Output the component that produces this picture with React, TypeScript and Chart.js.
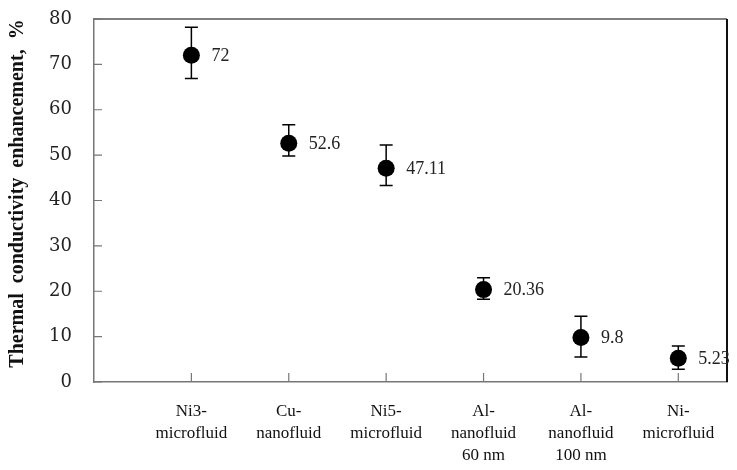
import React, { useEffect, useRef } from "react";
import { Chart, registerables } from "chart.js";

Chart.register(...registerables);

// Fluids compared, with the measured enhancement and its error range
const categories: string[][] = [
  ["Ni3-", "microfluid"],
  ["Cu-", "nanofluid"],
  ["Ni5-", "microfluid"],
  ["Al-", "nanofluid", "60 nm"],
  ["Al-", "nanofluid", "100 nm"],
  ["Ni-", "microfluid"],
];
const enhancement: number[] = [72, 52.6, 47.11, 20.36, 9.8, 5.23];
const errorPlus: number[] = [6.2, 4.1, 5.1, 2.6, 4.7, 2.7];
const errorMinus: number[] = [5.1, 2.8, 3.8, 2.1, 4.3, 2.4];
const yTicks: number[] = [0, 10, 20, 30, 40, 50, 60, 70, 80];
const yTitle = "Thermal conductivity enhancement, %";

const SERIF = "'Liberation Serif', 'Times New Roman', serif";

const decorations = {
  id: "decorations",
  beforeDatasetsDraw(chart: any) {
    const { ctx, chartArea, scales } = chart;
    const x = scales.x;
    const y = scales.y;
    ctx.save();
    // frame: top and right edges
    ctx.strokeStyle = "#555";
    ctx.lineWidth = 1.5;
    ctx.beginPath();
    ctx.moveTo(chartArea.left, chartArea.top);
    ctx.lineTo(chartArea.right, chartArea.top);
    ctx.stroke();
    ctx.strokeStyle = "#111";
    ctx.lineWidth = 2;
    ctx.beginPath();
    ctx.moveTo(chartArea.right, chartArea.top);
    ctx.lineTo(chartArea.right, chartArea.bottom);
    ctx.stroke();
    // inward tick marks
    ctx.strokeStyle = "#777";
    ctx.lineWidth = 1.2;
    ctx.beginPath();
    yTicks.forEach((v) => {
      const py = y.getPixelForValue(v);
      ctx.moveTo(chartArea.left, py);
      ctx.lineTo(chartArea.left + 8, py);
    });
    categories.forEach((_, i) => {
      const px = x.getPixelForValue(i);
      ctx.moveTo(px, chartArea.bottom);
      ctx.lineTo(px, chartArea.bottom - 9);
    });
    ctx.stroke();
    // error bars
    ctx.strokeStyle = "#000";
    ctx.lineWidth = 1.5;
    enhancement.forEach((v, i) => {
      const px = x.getPixelForValue(i);
      const top = y.getPixelForValue(v + errorPlus[i]);
      const bot = y.getPixelForValue(v - errorMinus[i]);
      ctx.beginPath();
      ctx.moveTo(px, top);
      ctx.lineTo(px, bot);
      ctx.moveTo(px - 6.5, top);
      ctx.lineTo(px + 6.5, top);
      ctx.moveTo(px - 6.5, bot);
      ctx.lineTo(px + 6.5, bot);
      ctx.stroke();
    });
    ctx.restore();
  },
  afterDatasetsDraw(chart: any) {
    const { ctx, chartArea, scales } = chart;
    const x = scales.x;
    const y = scales.y;
    ctx.save();
    // value labels
    ctx.fillStyle = "#222";
    ctx.font = `18px ${SERIF}`;
    ctx.textAlign = "left";
    ctx.textBaseline = "middle";
    enhancement.forEach((v, i) => {
      ctx.fillText(String(v), x.getPixelForValue(i) + 20, y.getPixelForValue(v) + 1);
    });
    // y-axis title
    ctx.translate(18, (chartArea.top + chartArea.bottom) / 2 - 7);
    ctx.rotate(-Math.PI / 2);
    ctx.font = `bold 20px ${SERIF}`;
    (ctx as any).wordSpacing = "5px";
    ctx.fillStyle = "#111";
    ctx.textAlign = "center";
    ctx.textBaseline = "middle";
    ctx.fillText(yTitle, 0, 0);
    ctx.restore();
  },
};

export default function App() {
  const canvasRef = useRef<HTMLCanvasElement | null>(null);

  useEffect(() => {
    document.body.style.margin = "0";
    const canvas = canvasRef.current;
    if (!canvas) return;
    const chart = new Chart(canvas, {
      type: "scatter",
      data: {
        datasets: [
          {
            data: enhancement.map((v, i) => ({ x: i, y: v })),
            backgroundColor: "#000",
            borderColor: "#000",
            pointRadius: 8.5,
            pointHoverRadius: 8.5,
            borderWidth: 0,
          },
        ],
      },
      options: {
        responsive: false,
        animation: false,
        events: [],
        layout: { padding: { top: 19, right: 10, left: 0, bottom: 0 } },
        plugins: {
          legend: { display: false },
          tooltip: { enabled: false },
        },
        scales: {
          x: {
            type: "linear",
            min: -1,
            max: 5.5,
            afterBuildTicks: (scale: any) => {
              scale.ticks = categories.map((_, i) => ({ value: i }));
            },
            afterFit: (scale: any) => {
              scale.height = 88;
              scale.paddingLeft = 0;
              scale.paddingRight = 0;
            },
            grid: { display: false, drawTicks: false },
            border: { display: true, color: "#777", width: 1.5 },
            ticks: {
              autoSkip: false,
              maxRotation: 0,
              padding: 18,
              color: "#111",
              font: { family: SERIF, size: 17, lineHeight: 1.3 },
              callback: (v: any) => categories[v as number] ?? "",
            },
          },
          y: {
            min: 0,
            max: 80,
            afterBuildTicks: (scale: any) => {
              scale.ticks = yTicks.map((v) => ({ value: v }));
            },
            afterFit: (scale: any) => {
              scale.width = 94;
              scale.paddingTop = 0;
              scale.paddingBottom = 0;
            },
            grid: { display: false, drawTicks: false },
            border: { display: true, color: "#777", width: 1.5 },
            ticks: {
              padding: 22,
              color: "#222",
              font: { family: "'DejaVu Serif', serif", size: 18 },
            },
          },
        },
      },
      plugins: [decorations],
    });
    return () => chart.destroy();
  }, []);

  return (
    <div style={{ width: 737, height: 470, background: "#fff" }}>
      <canvas ref={canvasRef} width={737} height={470} />
    </div>
  );
}
